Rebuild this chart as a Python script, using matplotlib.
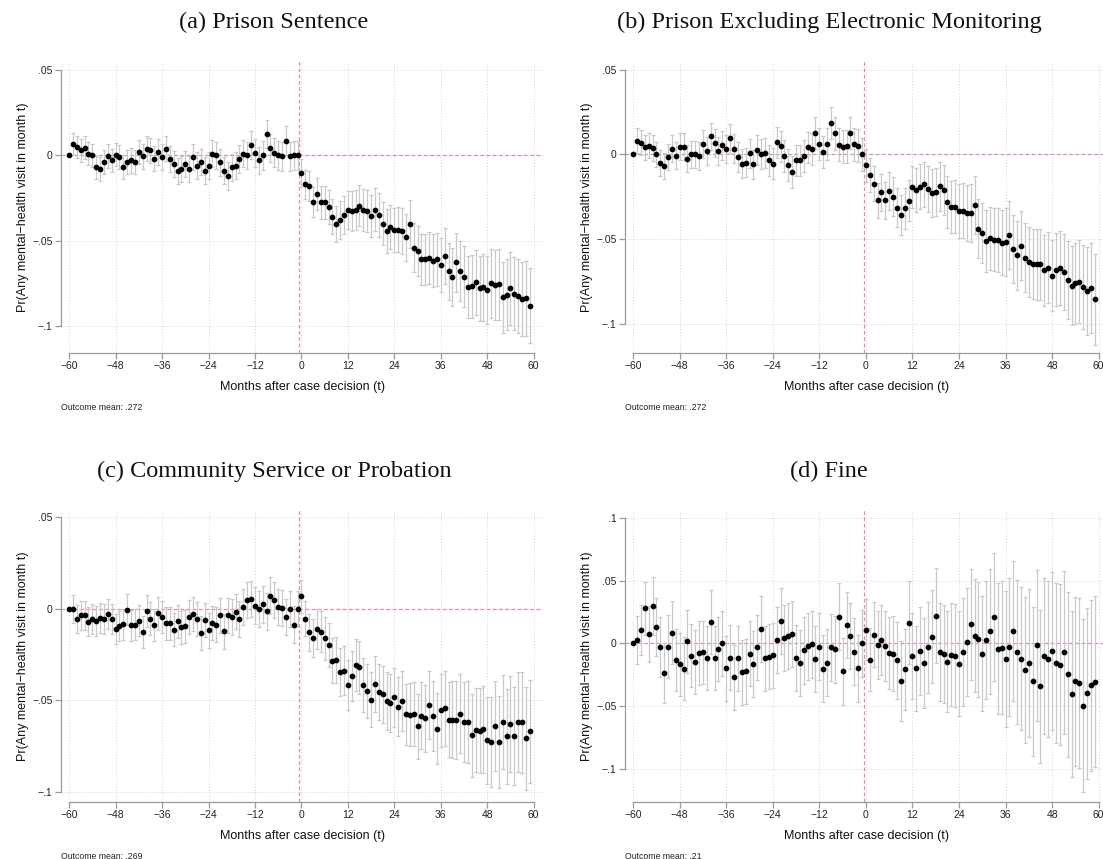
import matplotlib.pyplot as plt

# event time in months relative to the case decision (month -60 is the omitted baseline)
months = list(range(-60, 60))

# (a) Prison sentence: point estimates and 95% CI half-widths
prison_est = [
    0, .0066, .005, .003, .0045, .001, 0, -.007, -.008, -.004,
    -.0005, -.003, .0005, -.001, -.007, -.004, -.003, -.004, .002, -.0005,
    .004, .003, -.002, .002, -.001, .004, -.002, -.005, -.009, -.008,
    -.005, -.008, -.001, -.006, -.004, -.009, -.006, .001, 0, -.004,
    -.009, -.012, -.007, -.006, -.002, .001, 0, .006, .0015, -.003,
    0, .0125, .0045, .0015, 0, -.0005, .0085, -.0005, 0, 0,
    -.0103, -.017, -.018, -.0273, -.0228, -.0275, -.0275, -.030, -.036, -.040,
    -.038, -.035, -.032, -.0325, -.0318, -.0294, -.032, -.0325, -.0355, -.032,
    -.035, -.040, -.0444, -.042, -.0438, -.0436, -.0444, -.048, -.040, -.054,
    -.056, -.061, -.0608, -.060, -.0617, -.061, -.0643, -.0588, -.068, -.071,
    -.0625, -.0676, -.071, -.077, -.0768, -.0744, -.078, -.0773, -.079, -.075,
    -.076, -.0756, -.083, -.0816, -.078, -.0812, -.0826, -.084, -.0836, -.088,
]
prison_hw = [
    0, .0065, .0065, .0066, .0066, .0067, .0067, .0068, .0068, .0069,
    .0069, .007, .007, .007, .0071, .0071, .0071, .0072, .0072, .0072,
    .0073, .0073, .0073, .0074, .0074, .0074, .0075, .0075, .0075, .0076,
    .0076, .0076, .0077, .0077, .0077, .0078, .0078, .0078, .0079, .0079,
    .0079, .008, .008, .008, .0081, .0081, .0081, .0082, .0082, .0082,
    .0083, .0083, .0083, .0084, .0084, .0084, .0085, .0085, .0085, .0085,
    .008, .0085, .0088, .009, .0093, .0095, .0098, .010, .0103, .0106,
    .011, .0112, .0114, .0116, .0118, .012, .0122, .0124, .0125, .0126,
    .0127, .0128, .0129, .013, .013, .0133, .0135, .0138, .014, .0143,
    .0145, .0148, .015, .0153, .0155, .0158, .016, .0163, .0166, .017,
    .0173, .0176, .018, .0183, .0186, .019, .0193, .0196, .020, .0202,
    .0204, .0206, .0208, .021, .0212, .0214, .0216, .0218, .022, .022,
]

# (b) Prison excluding electronic monitoring
prison_noem_est = [
    0, .0081, .0069, .004, .005, .0036, 0, -.005, -.007, -.0016,
    .0034, -.0008, .0045, .0045, -.0026, 0, 0, -.001, .006, .002,
    .0105, .0067, .002, .0053, .003, .0095, .0034, -.0016, -.0055, -.005,
    .0006, -.006, .0024, .0004, .001, -.0036, -.0055, .007, .0047, -.001,
    -.0063, -.0105, -.0036, -.0036, -.0012, .004, .003, .0128, .006, .0012,
    .006, .0185, .0124, .0057, .0045, .0048, .0126, .006, .0051, 0,
    -.0065, -.0124, -.0174, -.0272, -.0225, -.0272, -.0219, -.025, -.0316, -.036,
    -.032, -.0274, -.0193, -.0213, -.0191, -.0178, -.0205, -.0229, -.0223, -.019,
    -.021, -.0282, -.031, -.031, -.0335, -.0334, -.0345, -.0347, -.030, -.044,
    -.0464, -.0513, -.0497, -.0505, -.0505, -.0523, -.0517, -.0476, -.0559, -.0598,
    -.054, -.061, -.0635, -.0647, -.0651, -.0651, -.0685, -.0671, -.0718, -.0683,
    -.0673, -.0695, -.0742, -.0776, -.0762, -.0752, -.0785, -.0809, -.079, -.0857,
]
prison_noem_hw = [
    0, .0073, .0073, .0074, .0074, .0075, .0075, .0076, .0076, .0077,
    .0077, .0078, .0078, .0079, .0079, .008, .008, .0081, .0081, .0082,
    .0082, .0083, .0083, .0084, .0084, .0085, .0085, .0086, .0086, .0087,
    .0087, .0088, .0088, .0089, .0089, .009, .009, .0091, .0091, .0092,
    .0092, .0093, .0093, .0093, .0094, .0094, .0094, .0095, .0095, .0095,
    .0096, .0096, .0096, .0096, .0097, .0097, .0097, .0097, .0097, .0097,
    .0097, .010, .0103, .0105, .0108, .011, .0112, .0114, .0116, .0118,
    .012, .0123, .0126, .0129, .0132, .0135, .0138, .014, .0143, .0146,
    .0149, .0152, .0155, .0158, .016, .0163, .0166, .0169, .0172, .0175,
    .0178, .0181, .0184, .0187, .019, .0193, .020, .0201, .0202, .0203,
    .0204, .0205, .0206, .0207, .0208, .0209, .021, .021, .021, .0215,
    .022, .0225, .023, .0235, .024, .0245, .025, .026, .0265, .027,
]

# (c) Community service or probation
community_est = [
    0, 0, -.0055, -.0036, -.0036, -.0071, -.0056, -.0065, -.0049, -.0056,
    -.0027, -.0056, -.0111, -.0093, -.0085, -.0004, -.0091, -.0087, -.0064, -.0125,
    -.0013, -.0053, -.0087, -.0024, -.0045, -.0078, -.008, -.0113, -.0069, -.010,
    -.0096, -.0044, -.0027, -.0058, -.0131, -.006, -.0118, -.0078, -.0087, -.0036,
    -.0122, -.0036, -.0045, -.0015, -.0056, .0009, .0047, .0056, .0018, 0,
    .0024, -.0013, .0073, .0049, .0009, .0005, -.0044, 0, -.0087, 0,
    .0069, -.0053, -.0129, -.016, -.0111, -.0125, -.0162, -.020, -.0285, -.0282,
    -.0345, -.0338, -.0418, -.0367, -.0309, -.032, -.0416, -.0451, -.0498, -.0409,
    -.0455, -.0467, -.0505, -.0515, -.0484, -.0535, -.0505, -.0578, -.058, -.0575,
    -.0642, -.0584, -.0598, -.0527, -.0587, -.0655, -.0555, -.0545, -.0607, -.0607,
    -.0609, -.0575, -.062, -.062, -.0693, -.0664, -.0667, -.066, -.072, -.0729,
    -.0642, -.0727, -.062, -.0698, -.0629, -.0698, -.062, -.062, -.0709, -.0671,
]
community_hw = [
    0, .0078, .0078, .0079, .0079, .008, .008, .0081, .0081, .0082,
    .0082, .0083, .0083, .0084, .0084, .0085, .0085, .0086, .0086, .0087,
    .0087, .0088, .0088, .0089, .0089, .009, .009, .009, .0091, .0091,
    .0092, .0092, .0093, .0093, .0094, .0094, .0095, .0095, .0095, .0096,
    .0096, .0096, .0097, .0097, .0097, .0098, .0098, .0098, .0099, .0099,
    .0099, .010, .010, .010, .010, .010, .010, .010, .010, .010,
    .009, .0095, .010, .0104, .0108, .0112, .0116, .012, .0123, .0126,
    .013, .0133, .0136, .0139, .0142, .0145, .0147, .0149, .0151, .0153,
    .0155, .0157, .0159, .016, .016, .0163, .0166, .0169, .0172, .0175,
    .0178, .0181, .0184, .0187, .019, .0193, .020, .0203, .0206, .021,
    .0213, .0216, .022, .0223, .0226, .023, .0233, .0236, .024, .0244,
    .0248, .0252, .0256, .026, .0264, .0268, .0272, .0276, .028, .028,
]

# (d) Fine
fine_est = [
    0, .0029, .0109, .0279, .0074, .030, .013, -.0027, -.0237, -.0027,
    .0085, -.0133, -.0168, -.0202, .0016, -.0098, -.0149, -.0077, -.0072, -.0114,
    .0168, -.012, -.0045, 0, -.020, -.0114, -.0269, -.012, -.0229, -.0223,
    -.0082, -.0165, -.0032, .0114, -.012, -.0106, -.0096, .0027, .0178, .0043,
    .0059, .0074, -.0114, -.0157, -.0056, -.0024, -.0008, -.0125, -.0027, -.0202,
    -.0154, -.0032, -.0048, .0213, -.0221, .0146, .0059, -.0066, -.020, 0,
    .0109, -.013, .0069, -.0011, .0027, -.0021, -.0077, -.0082, -.0136, -.0298,
    -.0207, .0165, -.0101, -.020, -.0059, -.0154, -.0032, .0053, .0221, -.0072,
    -.0082, -.0146, -.009, -.0098, -.0162, -.0069, .0008, .0152, .0059, .0032,
    -.0082, .0027, .0096, .0207, -.0043, -.0035, -.0122, -.0027, .0098, -.0069,
    -.0122, -.0213, -.0154, -.0303, -.0016, -.0343, -.0101, -.0122, -.0061, -.0157,
    -.017, -.0072, -.0247, -.0404, -.0303, -.0316, -.0497, -.0399, -.0335, -.0306,
]
fine_hw = [
    0, .019, .020, .021, .022, .023, .023, .024, .024, .025,
    .025, .025, .025, .025, .0252, .0252, .0252, .0254, .0254, .0254,
    .0255, .0255, .0256, .0256, .0257, .0257, .0258, .0258, .0259, .0259,
    .026, .026, .026, .026, .026, .026, .0261, .0261, .0262, .0262,
    .0263, .0263, .0264, .0264, .0265, .0265, .0266, .0266, .0267, .0267,
    .0267, .0267, .0267, .0267, .0266, .0266, .0265, .0265, .0264, .0264,
    .0245, .025, .026, .027, .028, .028, .029, .030, .031, .032,
    .032, .033, .034, .034, .035, .036, .036, .037, .038, .039,
    .039, .040, .041, .041, .042, .043, .043, .044, .045, .046,
    .046, .047, .050, .051, .052, .053, .054, .055, .056, .057,
    .057, .058, .059, .059, .060, .061, .062, .062, .063, .064,
    .064, .065, .066, .066, .067, .068, .069, .068, .068, .068,
]

xticks = [-60, -48, -36, -24, -12, 0, 12, 24, 36, 48, 60]
yticks_narrow = [-.1, -.05, 0, .05]
yticks_wide = [-.1, -.05, 0, .05, .1]

plt.rcParams['font.family'] = ['Liberation Sans', 'DejaVu Sans']

FIG_W, FIG_H = 1103, 859
fig = plt.figure(figsize=(FIG_W / 100, FIG_H / 100), dpi=100)


def fmt_tick(v):
    # Stata style: no leading zero, true minus sign
    if v == 0:
        return "0"
    s = ("%g" % abs(v)).lstrip("0")
    return ("\u2212" if v < 0 else "") + s


def draw_panel(rect, est, hw, ylim, yticks, title, title_xy, mean_text):
    # rect in pixels: left, top, right, bottom
    l, t, r, b = rect
    ax = fig.add_axes([l / FIG_W, 1 - b / FIG_H, (r - l) / FIG_W, (b - t) / FIG_H])
    ax.set_xlim(-62.1, 62.4)
    ax.set_ylim(*ylim)

    for x in xticks:
        ax.axvline(x, color='#d4d4d4', lw=0.7, ls=(0, (1, 2)), zorder=0)
    for y in yticks:
        ax.axhline(y, color='#d4d4d4', lw=0.7, ls=(0, (1, 2)), zorder=0)

    ax.axhline(0, color='#dc8cb4', lw=0.9, ls=(0, (3, 2)), zorder=1)
    ax.axvline(-0.5, color='#dc8cb4', lw=0.9, ls=(0, (3, 2)), zorder=1)

    ax.errorbar(months, est, yerr=hw, fmt='none', ecolor='#c9c9c9',
                elinewidth=0.9, capsize=1.6, capthick=0.9, zorder=2)
    ax.plot(months, est, 'o', color='black', ms=3.1, zorder=3)

    for side in ['top', 'right']:
        ax.spines[side].set_visible(False)
    for side in ['left', 'bottom']:
        ax.spines[side].set_color('#9a9a9a')
        ax.spines[side].set_linewidth(0.9)
    ax.spines['bottom'].set_bounds(-60, 60)
    ax.spines['left'].set_bounds(yticks[0], yticks[-1])

    ax.set_xticks(xticks)
    ax.set_xticklabels([fmt_tick(x) for x in xticks])
    ax.set_yticks(yticks)
    ax.set_yticklabels([fmt_tick(y) for y in yticks])
    ax.tick_params(axis='both', colors='#9a9a9a', labelcolor='#222222',
                   labelsize=7.5, length=4, width=0.9, pad=2)

    ax.set_xlabel("Months after case decision (t)", fontsize=9, color='#111111')
    ax.xaxis.set_label_coords(0.5, -0.095)
    ax.set_ylabel("Pr(Any mental\u2212health visit in month t)", fontsize=9, color='#111111')
    ax.yaxis.set_label_coords(-0.066, 0.5)

    ax.text(0.0, -0.185, mean_text, transform=ax.transAxes, fontsize=6.3,
            color='#222222', ha='left', va='center')

    fig.text(title_xy[0] / FIG_W, 1 - title_xy[1] / FIG_H, title,
             family=['Liberation Serif', 'DejaVu Serif'], fontsize=17.5,
             ha='center', va='center', color='#111111')
    return ax


draw_panel((61, 61, 543, 353), prison_est, prison_hw, (-0.1158, 0.0553),
           yticks_narrow, "(a) Prison Sentence", (274, 22), "Outcome mean: .272")
draw_panel((625, 61, 1108, 353), prison_noem_est, prison_noem_hw, (-0.1174, 0.0551),
           yticks_narrow, "(b) Prison Excluding Electronic Monitoring", (829, 22),
           "Outcome mean: .272")
draw_panel((61, 510, 543, 802), community_est, community_hw, (-0.1057, 0.0541),
           yticks_narrow, "(c) Community Service or Probation", (274, 471),
           "Outcome mean: .269")
draw_panel((625, 510, 1108, 802), fine_est, fine_hw, (-0.1263, 0.1062),
           yticks_wide, "(d) Fine", (829, 471), "Outcome mean: .21")

fig.savefig("out.png", dpi=100)
